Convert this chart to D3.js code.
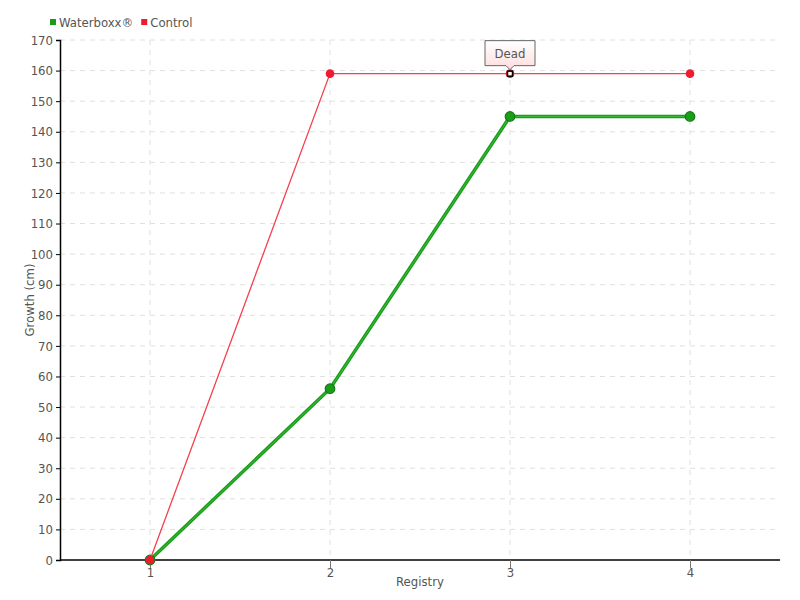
<!DOCTYPE html>
<html><head><meta charset="utf-8">
<script src="https://cdn.jsdelivr.net/npm/d3@7"></script>
<style>body{margin:0;background:#fff;} text{font-family:"DejaVu Sans Condensed","DejaVu Sans",sans-serif;}</style>
</head><body>
<svg id="c" width="800" height="600"></svg>
<script>
const categories = ["1","2","3","4"];
const waterboxx = [0, 56, 145, 145];
const control = [0, 159, 159, 159];
const yTicks = d3.range(0, 171, 10);
const seriesNames = ["Waterboxx®", "Control"];
const seriesColors = ["#1a9e1a", "#ee1c2e"];
const tooltipLabel = "Dead";
const tooltipIndex = 2;

const svg = d3.select("#c");
const m = {l:60, r:20, t:40, b:40};
const W = 800, H = 600;
const x = d3.scalePoint().domain(categories).range([m.l, W - m.r]).padding(0.5);
const y = d3.scaleLinear().domain([0,170]).range([H - m.b, m.t]);
const txtColor = "#555";

const defs = svg.append("defs");
const grad = defs.append("linearGradient").attr("id","tipg").attr("x1",0).attr("y1",0).attr("x2",0).attr("y2",1);
grad.append("stop").attr("offset","0%").attr("stop-color","#fff");
grad.append("stop").attr("offset","100%").attr("stop-color","#fdd");

// grid
svg.append("g").selectAll("line").data(yTicks.filter(d=>d>0)).join("line")
  .attr("x1", m.l).attr("x2", W - m.r).attr("y1", d=>y(d)).attr("y2", d=>y(d))
  .attr("stroke","#e0e0e0").attr("stroke-dasharray","5,5");
svg.append("g").selectAll("line").data(categories).join("line")
  .attr("x1", d=>x(d)).attr("x2", d=>x(d)).attr("y1", m.t).attr("y2", H - m.b)
  .attr("stroke","#e0e0e0").attr("stroke-dasharray","5,5");

// y axis
const ya = svg.append("g").attr("transform",`translate(${m.l},0)`)
  .call(d3.axisLeft(y).tickValues(yTicks).tickSize(4).tickPadding(3));
ya.select(".domain").attr("stroke","#000").attr("stroke-width",1.5);
ya.selectAll(".tick line").attr("stroke","#000");
ya.selectAll("text").attr("fill",txtColor).style("font-size","13px");

// x axis
const xa = svg.append("g").attr("transform",`translate(0,${H-m.b})`)
  .call(d3.axisBottom(x).tickSize(8).tickPadding(2).tickSizeOuter(0));
xa.select(".domain").attr("stroke","#000").attr("stroke-width",1.5).attr("d",`M${m.l},0H${W-m.r}`);
xa.selectAll(".tick line").attr("stroke","#777");
xa.selectAll("text").attr("fill",txtColor).style("font-size","13px").attr("dy","0.5em");

// axis labels
svg.append("text").attr("x",(m.l + W - m.r)/2).attr("y",586).attr("text-anchor","middle")
  .attr("fill",txtColor).style("font-size","13px").text("Registry");
svg.append("text").attr("transform",`translate(34,${(m.t+H-m.b)/2}) rotate(-90)`).attr("text-anchor","middle")
  .attr("fill",txtColor).style("font-size","13px").text("Growth (cm)");

// lines
const line = d3.line().x((d,i)=>x(categories[i])).y(d=>y(d));
svg.append("path").datum(waterboxx).attr("d",line).attr("fill","none")
  .attr("stroke",seriesColors[0]).attr("stroke-width",3.5);
svg.append("path").datum(waterboxx).attr("d",line).attr("fill","none")
  .attr("stroke","#5c5").attr("stroke-width",1).attr("opacity",0.6);
svg.append("g").selectAll("circle").data(waterboxx).join("circle")
  .attr("cx",(d,i)=>x(categories[i])).attr("cy",d=>y(d)).attr("r",4.8)
  .attr("fill",seriesColors[0]).attr("stroke","#157a15").attr("stroke-width",1.2);

svg.append("path").datum(control).attr("d",line).attr("fill","none")
  .attr("stroke","#f4404f").attr("stroke-width",1.3);
svg.append("g").selectAll("circle").data(control).join("circle")
  .attr("cx",(d,i)=>x(categories[i])).attr("cy",d=>y(d)).attr("r",4.3)
  .attr("fill",seriesColors[1]);

// highlighted point
const hx = x(categories[tooltipIndex]), hy = y(control[tooltipIndex]);
svg.append("rect").attr("x",hx-2.5).attr("y",hy-2.5).attr("width",5).attr("height",5)
  .attr("fill","#fff").attr("stroke","#000").attr("stroke-width",1.5);

// tooltip
const tw = 50, th = 25, ty = hy - 8 - th;
svg.append("path")
  .attr("d",`M${hx-tw/2},${ty}H${hx+tw/2}V${ty+th}H${hx+4}L${hx},${ty+th+4}L${hx-4},${ty+th}H${hx-tw/2}Z`)
  .attr("fill","url(#tipg)").attr("stroke","#666").attr("stroke-width",1);
svg.append("text").attr("x",hx).attr("y",ty+th/2+4.5).attr("text-anchor","middle")
  .attr("fill",txtColor).style("font-size","13px").text(tooltipLabel);

// legend
const lg = svg.append("g");
let lx = 50;
seriesNames.forEach((n,i)=>{
  lg.append("rect").attr("x",lx).attr("y",19).attr("width",6).attr("height",6).attr("fill",seriesColors[i]);
  const t = lg.append("text").attr("x",lx+9).attr("y",27).attr("fill",txtColor).style("font-size","13px").text(n);
  lx += 9 + t.node().getComputedTextLength() + 8;
});
</script>
</body></html>
